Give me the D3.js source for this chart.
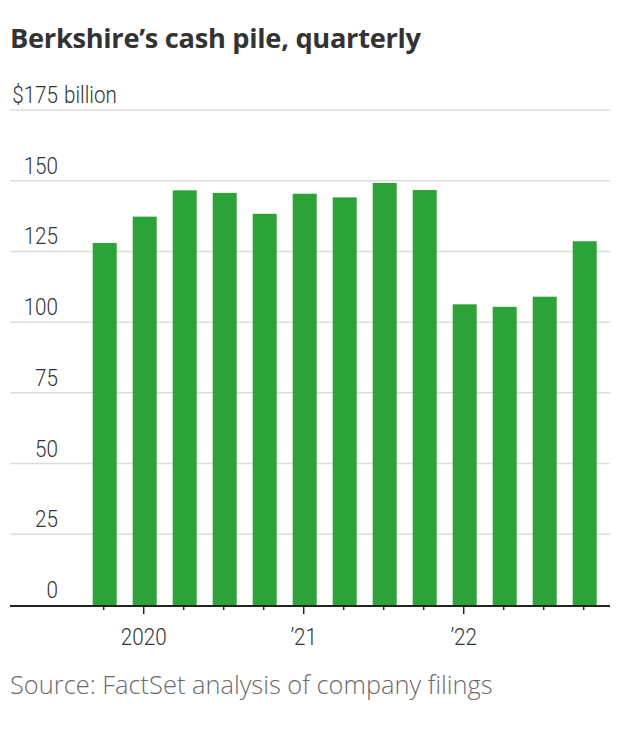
<!DOCTYPE html>
<html><head><meta charset="utf-8">
<script src="https://cdn.jsdelivr.net/npm/d3@7"></script>
<style>body{margin:0;background:#fff}</style>
</head><body>
<svg id="c" width="626" height="748"></svg>
<script>
const quarters = ["Q4 2019","Q1 2020","Q2 2020","Q3 2020","Q4 2020","Q1 2021","Q2 2021","Q3 2021","Q4 2021","Q1 2022","Q2 2022","Q3 2022","Q4 2022"];
const cash = [128.0,137.3,146.6,145.7,138.3,145.4,144.1,149.2,146.7,106.3,105.4,109.0,128.6];
const yTicks = [0,25,50,75,100,125,150,175];
const xLabels = {"Q1 2020":"2020","Q1 2021":"’21","Q1 2022":"’22"};
const titleText = "Berkshire’s cash pile, quarterly";
const sourceText = "Source: FactSet analysis of company filings";

const svg = d3.select("#c");
const narrow = "Roboto,'Noto Sans',sans-serif";
const SX = 0.86;
const y = d3.scaleLinear().domain([0,175]).range([605,110]);
const x = d3.scaleBand().domain(quarters).range([84.7,604.7]).paddingInner(0.4).paddingOuter(0.2);

function fitWidth(t, w){
  const fs = +t.attr("font-size");
  const len = t.node().getComputedTextLength();
  t.attr("font-size", fs*w/len);
}

const tt = svg.append("text").attr("x",10).attr("y",48).text(titleText)
  .attr("font-family","'Open Sans','Noto Sans',sans-serif").attr("font-weight",700)
  .attr("font-size",25).attr("fill","#333").attr("letter-spacing",-0.3);
fitWidth(tt, 410);

// gridlines
svg.append("g").selectAll("line").data(yTicks.filter(d=>d>0)).join("line")
  .attr("x1",10).attr("x2",610).attr("y1",d=>y(d)).attr("y2",d=>y(d))
  .attr("stroke","#dcdcdc").attr("stroke-width",1.5);

// y labels
const yl = svg.append("g").attr("font-family",narrow).attr("font-size",24).attr("font-weight",300).attr("fill","#333");
yl.selectAll("text.n").data(yTicks.filter(d=>d<175)).join("text").attr("class","n")
  .attr("transform",d=>`translate(58,${y(d)-7}) scale(${SX},1)`).attr("text-anchor","end").text(d=>d);
yl.append("text").attr("transform",`translate(58,${y(175)-7}) scale(${SX},1)`).attr("text-anchor","end").text("$175");
yl.append("text").attr("transform",`translate(64,${y(175)-7}) scale(${SX},1)`).text("billion");

// bars
svg.append("g").selectAll("rect").data(quarters).join("rect")
  .attr("x",d=>x(d)).attr("width",x.bandwidth())
  .attr("y",(d,i)=>y(cash[i])).attr("height",(d,i)=>y(0)-y(cash[i]))
  .attr("fill","#2ca336");

// axis
svg.append("line").attr("x1",10).attr("x2",610).attr("y1",y(0)+1).attr("y2",y(0)+1)
  .attr("stroke","#222").attr("stroke-width",2);
const ax = svg.append("g");
ax.selectAll("line").data(quarters).join("line")
  .attr("x1",d=>x(d)+x.bandwidth()/2-1).attr("x2",d=>x(d)+x.bandwidth()/2-1)
  .attr("y1",y(0)+1).attr("y2",d=>y(0)+(xLabels[d]?9:5))
  .attr("stroke","#222").attr("stroke-width",1.5);
ax.selectAll("text").data(quarters.filter(d=>xLabels[d])).join("text")
  .attr("transform",d=>`translate(${x(d)+x.bandwidth()/2-1},645) scale(${SX},1)`).attr("text-anchor","middle")
  .attr("font-family",narrow).attr("font-weight",300).attr("font-size",24).attr("fill","#333").text(d=>xLabels[d]);

const st = svg.append("text").attr("x",10).attr("y",694).text(sourceText)
  .attr("font-family","'Open Sans','Noto Sans',sans-serif").attr("font-weight",300).attr("font-size",21).attr("fill","#6b6b6b");
fitWidth(st, 483);
</script>
</body></html>
